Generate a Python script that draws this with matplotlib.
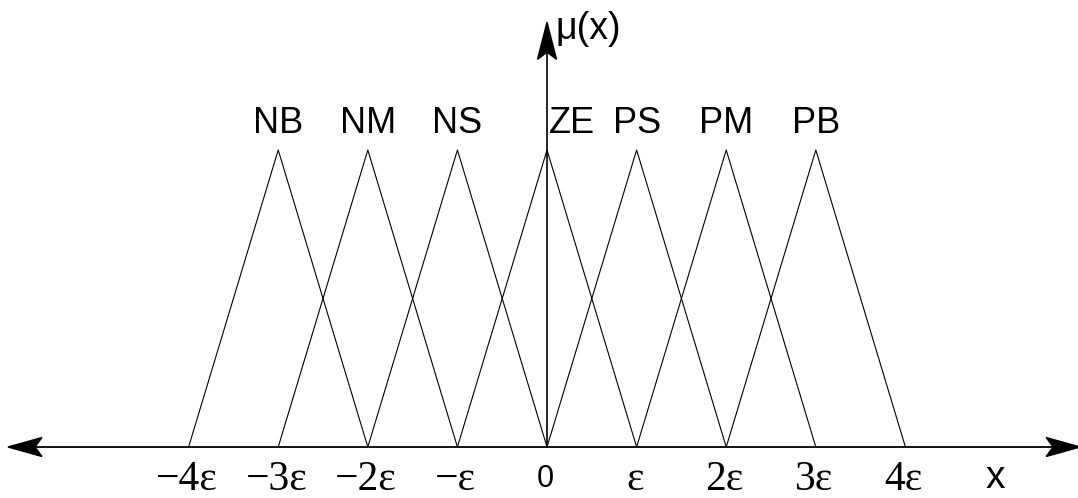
import matplotlib
matplotlib.use("Agg")
import matplotlib.pyplot as plt
from matplotlib.patches import Polygon
from matplotlib.transforms import ScaledTranslation
import numpy as np

# fuzzy sets: name and centre (in units of eps)
set_names = ["NB", "NM", "NS", "ZE", "PS", "PM", "PB"]
set_centres = [-3, -2, -1, 0, 1, 2, 3]
half_width = 1.0

# x axis tick positions and their labels
tick_pos = [-4, -3, -2, -1, 0, 1, 2, 3, 4]
tick_text = ["\u22124\u03b5", "\u22123\u03b5", "\u22122\u03b5", "\u2212\u03b5", "0",
             "\u03b5", "2\u03b5", "3\u03b5", "4\u03b5"]

sans = ["Liberation Sans", "DejaVu Sans"]
serif = ["Liberation Serif", "DejaVu Serif"]

fig = plt.figure(figsize=(10.78, 4.98), dpi=100)
ax = fig.add_axes([0, 0, 1, 1])
ax.set_axis_off()
ax.set_xlim(-6.105, 5.926)
ax.set_ylim(-0.1717, 1.505)


def arrow_head(x, y, direction, length=0.34, half=0.095, notch=0.07):
    # filled arrow head drawn in inches around the tip (x, y) in data coords
    verts = np.array([[0, 0], [-length, half], [-length + notch, 0], [-length, -half]])
    if direction == "left":
        verts[:, 0] *= -1
    elif direction == "up":
        verts = verts[:, ::-1]
    tr = fig.dpi_scale_trans + ScaledTranslation(x, y, ax.transData)
    ax.add_patch(Polygon(verts, closed=True, transform=tr, facecolor="black",
                         edgecolor="black", lw=1.0, joinstyle="miter", zorder=4))


# axes with arrows
x_left, x_right, y_top = -6.016, 5.95, 1.43
ax.plot([x_left + 0.3, x_right - 0.3], [0, 0], color="black", lw=1.3, zorder=3)
ax.plot([0, 0], [0, y_top - 0.1], color="black", lw=1.2, zorder=3)
arrow_head(x_left, 0, "left")
arrow_head(x_right, 0, "right")
arrow_head(0, y_top, "up", length=0.37)

# triangular membership functions
for c, name in zip(set_centres, set_names):
    ax.plot([c - half_width, c, c + half_width], [0, 1, 0], color="black", lw=0.8)
    lx = c + 0.28 if name == "ZE" else c
    ax.text(lx, 1.057, name, ha="center", va="baseline", fontsize=26, family=sans)

# tick labels along the x axis
for p, t in zip(tick_pos, tick_text):
    if t == "0":
        ax.text(p - 0.02, -0.1347, t, ha="center", va="baseline", fontsize=22, family=sans)
    else:
        ax.text(p - 0.02, -0.1448, t, ha="center", va="baseline", fontsize=30, family=serif)

ax.text(5.0, -0.139, "x", ha="center", va="baseline", fontsize=28, family=sans)
ax.text(0.1, 1.375, "\u03bc(x)", ha="left", va="baseline", fontsize=27, family=sans)

fig.savefig("out.png", dpi=100)
